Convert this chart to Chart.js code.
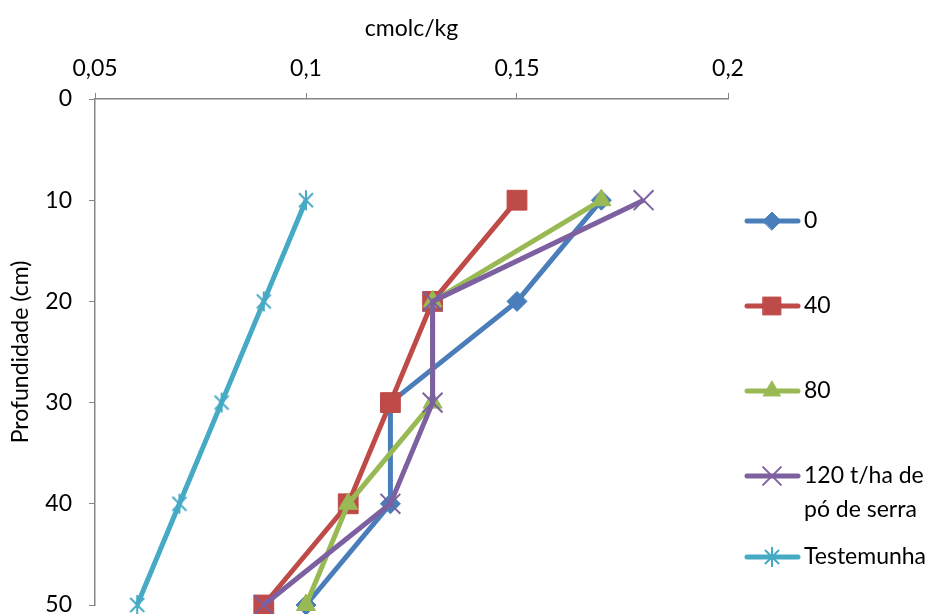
<!DOCTYPE html>
<html>
<head>
<meta charset="utf-8">
<script src="https://cdn.jsdelivr.net/npm/chart.js@4/dist/chart.umd.min.js"></script>
<style>
  html, body { margin: 0; padding: 0; background: #fff; overflow: hidden; }
  #wrap { width: 941px; height: 650px; }
</style>
</head>
<body>
<div id="wrap"><canvas id="perfil" width="941" height="650"></canvas></div>
<script>
// Profundidade (cm) e teores (cmolc/kg) por dose de pó de serra
const depths     = [10, 20, 30, 40, 50];
const dose0      = [0.17, 0.15, 0.12, 0.12, 0.10];
const dose40     = [0.15, 0.13, 0.12, 0.11, 0.09];
const dose80     = [0.17, 0.13, 0.13, 0.11, 0.10];
const dose120    = [0.18, 0.13, 0.13, 0.12, 0.09];
const testemunha = [0.10, 0.09, 0.08, 0.07, 0.06];

const seriesNames = ['0', '40', '80', '120 t/ha de\npó de serra', 'Testemunha'];
const xTicks = [0.05, 0.1, 0.15, 0.2];
const yTicks = [0, 10, 20, 30, 40, 50];

const FONT = 'Lato, "Open Sans", sans-serif';
const FONT_SIZE = 23;
const AXIS_GREY = '#868686';

// Excel-like asterisk marker: an X with a vertical stroke
function starMarker(color) {
    const c = document.createElement('canvas');
    c.width = 22; c.height = 22;
    const g = c.getContext('2d');
    g.strokeStyle = color;
    g.lineWidth = 2;
    g.beginPath();
    g.moveTo(4, 4);  g.lineTo(18, 18);
    g.moveTo(18, 4); g.lineTo(4, 18);
    g.moveTo(11, 1); g.lineTo(11, 21);
    g.stroke();
    return c;
}

const toPoints = vals => vals.map((v, i) => ({ x: v, y: depths[i] }));

const styles = [
    { color: '#4A7EBB', pointStyle: 'rectRot',  radius: 10, pbw: 1 },
    { color: '#BE4B48', pointStyle: 'rect',     radius: 14, pbw: 1 },
    { color: '#98B954', pointStyle: 'triangle', radius: 11, pbw: 1 },
    { color: '#7D60A0', pointStyle: 'crossRot', radius: 14, pbw: 2 },
    { color: '#46AAC5', pointStyle: starMarker('#46AAC5'), radius: 11, pbw: 2 }
];
const values = [dose0, dose40, dose80, dose120, testemunha];

const datasets = values.map((vals, i) => ({
    label: seriesNames[i],
    data: toPoints(vals),
    showLine: true,
    borderColor: styles[i].color,
    backgroundColor: styles[i].color,
    borderWidth: 5,
    tension: 0,
    pointStyle: styles[i].pointStyle,
    pointRadius: styles[i].radius,
    pointHoverRadius: styles[i].radius,
    pointBackgroundColor: styles[i].color,
    pointBorderColor: styles[i].color,
    pointBorderWidth: styles[i].pbw,
    clip: false,
    // later series drawn on top
    order: values.length - i
}));

// Legend on the right: line + marker + text, drawn from the dataset styles
const legendRows = [221, 306, 391, 476, 557];
const sideLegend = {
    id: 'sideLegend',
    afterDraw(chart) {
        const ctx = chart.ctx;
        chart.data.datasets.forEach((ds, i) => {
            const y = legendRows[i];
            ctx.save();
            ctx.strokeStyle = ds.borderColor;
            ctx.lineWidth = 5;
            ctx.lineCap = 'round';
            ctx.beginPath();
            ctx.moveTo(747, y);
            ctx.lineTo(798, y);
            ctx.stroke();
            ctx.fillStyle = ds.pointBackgroundColor;
            ctx.strokeStyle = ds.pointBorderColor;
            ctx.lineWidth = ds.pointBorderWidth;
            Chart.helpers.drawPoint(ctx, {
                pointStyle: ds.pointStyle,
                radius: ds.pointRadius * 0.9,
                rotation: 0,
                borderWidth: ds.pointBorderWidth
            }, 772, y);
            ctx.fillStyle = '#000';
            ctx.font = FONT_SIZE + 'px ' + FONT;
            ctx.textAlign = 'left';
            ctx.textBaseline = 'middle';
            ds.label.split('\n').forEach((line, k) => {
                ctx.fillText(line, 804, y + k * 34);
            });
            ctx.restore();
        });
    }
};

const fmt = v => Number(v.toFixed(2)).toString().replace('.', ',');

new Chart(document.getElementById('perfil'), {
    type: 'scatter',
    data: { datasets },
    options: {
        responsive: false,
        animation: false,
        events: [],
        layout: { padding: { left: 0, top: 0, right: 213, bottom: 45 } },
        plugins: {
            legend: { display: false },
            tooltip: { enabled: false }
        },
        scales: {
            x: {
                type: 'linear',
                position: 'top',
                min: 0.05,
                max: 0.2,
                afterBuildTicks: s => { s.ticks = xTicks.map(v => ({ value: v })); },
                afterFit: s => { s.height = 99; },
                ticks: {
                    callback: v => fmt(v),
                    color: '#000',
                    font: { family: FONT, size: FONT_SIZE },
                    padding: 11,
                    maxRotation: 0
                },
                grid: {
                    drawOnChartArea: false,
                    drawTicks: true,
                    tickLength: 6,
                    color: AXIS_GREY
                },
                border: { display: true, color: AXIS_GREY, width: 1.5 },
                title: {
                    display: true,
                    text: 'cmolc/kg',
                    color: '#000',
                    font: { family: FONT, size: FONT_SIZE },
                    padding: { top: 15, bottom: 0 }
                }
            },
            y: {
                type: 'linear',
                reverse: true,
                min: 0,
                max: 50,
                afterBuildTicks: s => { s.ticks = yTicks.map(v => ({ value: v })); },
                afterFit: s => { s.width = 95; },
                ticks: {
                    color: '#000',
                    font: { family: FONT, size: FONT_SIZE },
                    padding: 17
                },
                grid: {
                    drawOnChartArea: false,
                    drawTicks: true,
                    tickLength: 6,
                    color: AXIS_GREY
                },
                border: { display: true, color: AXIS_GREY, width: 1.5 },
                title: {
                    display: true,
                    text: 'Profundidade (cm)',
                    color: '#000',
                    font: { family: FONT, size: FONT_SIZE },
                    padding: { top: 7, bottom: 0 }
                }
            }
        }
    },
    plugins: [sideLegend]
});
</script>
</body>
</html>
